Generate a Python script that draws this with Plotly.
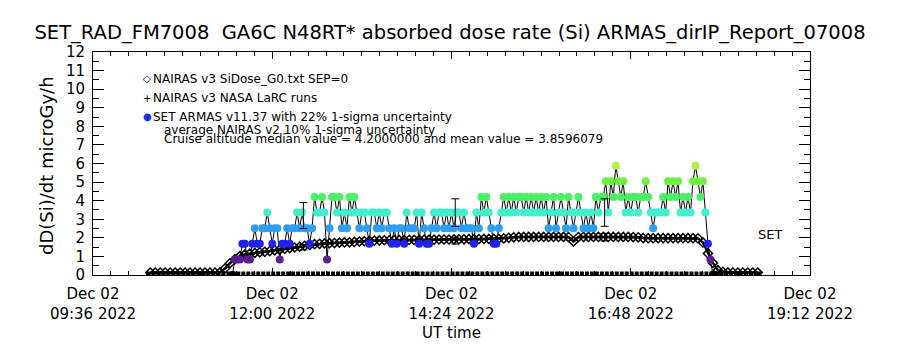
import pandas as pd
import plotly.graph_objects as go

# ---------------- data ----------------
# NAIRAS v3 SiDose_G0 (diamonds), sampled every 4 min from 10:22 UT
nairas_start = "2022-12-02 10:22"
nairas_step = "4min"
nairas_g0 = [
    0.13, 0.13, 0.13, 0.13, 0.13, 0.13, 0.13, 0.13, 0.13, 0.13,
    0.13, 0.13, 0.13, 0.13, 0.14, 0.35, 0.63, 0.85, 1.02, 1.10,
    1.15, 1.19, 1.22, 1.25, 1.29, 1.33, 1.37, 1.41, 1.45, 1.48,
    1.52, 1.57, 1.62, 1.66, 1.68, 1.70, 1.71, 1.72, 1.74, 1.75,
    1.76, 1.78, 1.80, 1.82, 1.84, 1.85, 1.86, 1.87, 1.87, 1.88,
    1.88, 1.88, 1.89, 1.89, 1.89, 1.90, 1.90, 1.90, 1.91, 1.91,
    1.91, 1.92, 1.92, 1.92, 1.93, 1.93, 1.93, 1.94, 1.94, 1.95,
    1.95, 1.97, 2.00, 2.03, 2.05, 2.05, 2.05, 2.05, 2.05, 2.05,
    2.05, 2.05, 2.05, 2.05, 2.04, 1.80, 2.04, 2.05, 2.05, 2.05,
    2.05, 2.05, 2.05, 2.05, 2.05, 2.05, 2.05, 2.04, 2.03, 1.99,
    1.98, 1.98, 1.98, 1.98, 1.98, 1.98, 1.98, 1.98, 1.98, 1.98,
    1.97, 1.75, 1.16, 0.65, 0.26, 0.17, 0.14, 0.13, 0.13, 0.13,
    0.13, 0.13, 0.13,
]

# NAIRAS v3 NASA LaRC runs (at zero for this flight), every 4 min from 10:22 UT
larc_start = "2022-12-02 10:22"
larc_step = "4min"
larc_runs = [
    0, 0, 0, 0, 0, 0, 0, 0, 0, 0, 0, 0, 0, 0, 0, 0, 0, 0, 0, 0,
    0, 0, 0, 0, 0, 0, 0, 0, 0, 0, 0, 0, 0, 0, 0, 0, 0, 0, 0, 0,
    0, 0, 0, 0, 0, 0, 0, 0, 0, 0, 0, 0, 0, 0, 0, 0, 0, 0, 0, 0,
    0, 0, 0, 0, 0, 0, 0, 0, 0, 0, 0, 0, 0, 0, 0, 0, 0, 0, 0, 0,
    0, 0, 0, 0, 0, 0, 0, 0, 0, 0, 0, 0, 0, 0, 0, 0, 0, 0, 0, 0,
    0, 0, 0, 0, 0, 0, 0, 0, 0, 0, 0, 0, 0, 0, 0, 0, 0, 0, 0, 0,
    0, 0, 0,
]

# SET ARMAS v11.37 dose rate, every 2 min from 11:28 UT
armas_start = "2022-12-02 11:28"
armas_step = "2min"
armas = [
    0.00,
    0.84, 0.84, 0.84, 1.68, 1.68, 0.84, 0.84, 1.68, 2.52, 1.68,
    1.68, 2.52, 2.52, 3.36, 2.52, 1.68, 2.52, 2.52, 0.84, 1.68,
    1.68, 2.52, 1.68, 2.52, 2.52, 3.36, 2.52, 3.36, 2.52, 2.52,
    1.68, 2.52, 4.20, 3.36, 3.36, 4.20, 3.36, 0.84, 2.52, 4.20,
    4.20, 3.36, 4.20, 2.52, 3.36, 2.52, 4.20, 3.36, 4.20, 3.36,
    2.52, 3.36, 3.36, 2.52, 1.68, 3.36, 3.36, 2.52, 3.36, 2.52,
    3.36, 3.36, 2.52, 1.68, 2.52, 1.68, 2.52, 2.52, 1.68, 3.36,
    2.52, 2.52, 2.52, 3.36, 1.68, 3.36, 2.52, 1.68, 1.68, 2.52,
    3.36, 2.52, 3.36, 3.36, 2.52, 3.36, 2.52, 3.36, 2.52, 3.36,
    3.36, 2.52, 3.36, 2.52, 2.52, 2.52, 1.68, 3.36, 2.52, 4.20,
    3.36, 4.20, 3.36, 2.52, 1.68, 1.68, 2.52, 3.36, 4.20, 3.36,
    4.20, 3.36, 4.20, 3.36, 4.20, 4.20, 3.36, 4.20, 3.36, 4.20,
    3.36, 4.20, 3.36, 4.20, 3.36, 4.20, 2.52, 3.36, 4.20, 2.52,
    3.36, 4.20, 3.36, 2.52, 4.20, 3.36, 2.52, 3.36, 4.20, 3.36,
    2.52, 3.36, 2.52, 3.36, 2.52, 4.20, 3.36, 4.20, 4.20, 5.04,
    3.36, 5.04, 4.20, 5.88, 5.04, 4.20, 5.04, 3.36, 4.20, 3.36,
    4.20, 4.20, 3.36, 4.20, 4.20, 5.04, 4.20, 3.36, 2.52, 3.36,
    3.36, 3.36, 4.20, 3.36, 5.04, 4.20, 5.04, 4.20, 5.04, 3.36,
    4.20, 3.36, 4.20, 3.36, 5.04, 5.88, 5.04, 4.20, 5.04, 3.36,
    1.68, 0.84, 0.00, 0.00,
]

# Uncertainty bars
err_times = ["2022-12-02 12:25", "2022-12-02 14:27", "2022-12-02 16:27"]
armas_err_center = [3.20, 3.36, 3.36]
armas_err_pct = 22
nairas_err_center = [1.50, 1.85, 2.04]
nairas_err_pct = 10

# axis ticks
x_tickvals = ["2022-12-02 09:36", "2022-12-02 12:00", "2022-12-02 14:24",
              "2022-12-02 16:48", "2022-12-02 19:12"]
x_ticktext = ["Dec 02<br>09:36 2022", "Dec 02<br>12:00 2022", "Dec 02<br>14:24 2022",
              "Dec 02<br>16:48 2022", "Dec 02<br>19:12 2022"]
x_range = ["2022-12-02 09:36", "2022-12-02 19:12"]
y_range = [0, 12]

title_text = "SET_RAD_FM7008  GA6C N48RT* absorbed dose rate (Si) ARMAS_dirIP_Report_07008"
legend_lines = [
    "NAIRAS v3 SiDose_G0.txt SEP=0",
    "NAIRAS v3 NASA LaRC runs",
    "SET ARMAS v11.37 with 22% 1-sigma uncertainty",
]
note_lines = [
    "average NAIRAS v2 10% 1-sigma uncertainty",
    "Cruise altitude median value = 4.2000000 and mean value = 3.8596079",
]

# ---------------- figure ----------------
W, H = 900, 350
L, R, T, B = 93, 810, 52, 279
FONT = "DejaVu Sans"


def px(x):
    return (x - L) / (R - L)


def py(y):
    return (B - y) / (B - T)


t_nairas = pd.date_range(nairas_start, periods=len(nairas_g0), freq=nairas_step)
t_larc = pd.date_range(larc_start, periods=len(larc_runs), freq=larc_step)
t_armas = pd.date_range(armas_start, periods=len(armas), freq=armas_step)

level_colors = [
    [0.0, "#000000"],
    [1 / 7, "#5A1E90"],
    [2 / 7, "#2222EA"],
    [3 / 7, "#2E9EF2"],
    [4 / 7, "#40EFCC"],
    [5 / 7, "#48F064"],
    [6 / 7, "#6CF040"],
    [1.0, "#B0F040"],
]

fig = go.Figure()

fig.add_trace(go.Scatter(
    x=t_larc, y=larc_runs, mode="markers",
    marker=dict(symbol="square", size=8, color="black",
                line=dict(width=1, color="white")),
    showlegend=False, hoverinfo="skip"))

fig.add_trace(go.Scatter(
    x=t_nairas, y=nairas_g0, mode="lines+markers",
    line=dict(color="black", width=2.5),
    marker=dict(symbol="diamond-open", size=7, color="black", line=dict(width=1.5)),
    showlegend=False))

fig.add_trace(go.Scatter(
    x=t_armas, y=armas, mode="lines+markers",
    line=dict(color="black", width=1),
    marker=dict(symbol="circle", size=8, color=armas, colorscale=level_colors,
                cmin=0, cmax=max(armas), line=dict(width=0)),
    showlegend=False))

fig.add_trace(go.Scatter(
    x=err_times, y=armas_err_center, mode="markers",
    marker=dict(size=1, color="rgba(0,0,0,0)"),
    error_y=dict(type="percent", value=armas_err_pct, color="black",
                 thickness=1, width=4),
    showlegend=False))

fig.add_trace(go.Scatter(
    x=err_times, y=nairas_err_center, mode="markers",
    marker=dict(size=1, color="rgba(0,0,0,0)"),
    error_y=dict(type="percent", value=nairas_err_pct, color="black",
                 thickness=1, width=4),
    showlegend=False))

annotations = []
sym = ["<b>◇</b>", "+", "<span style='color:#1E2EE8'>●</span>"]
leg_y = [79, 99, 118]
for s, txt, yy in zip(sym, legend_lines, leg_y):
    annotations.append(dict(x=px(141), y=py(yy), xref="paper", yref="paper",
                            text=s, showarrow=False, xanchor="left", yanchor="middle",
                            font=dict(family=FONT, size=10, color="black")))
    annotations.append(dict(x=px(151), y=py(yy), xref="paper", yref="paper",
                            text=txt, showarrow=False, xanchor="left", yanchor="middle",
                            font=dict(family=FONT, size=12, color="black")))
for txt, yy in zip(note_lines, [131, 141]):
    annotations.append(dict(x=px(162), y=py(yy), xref="paper", yref="paper",
                            text=txt, showarrow=False, xanchor="left", yanchor="middle",
                            font=dict(family=FONT, size=12, color="black")))
annotations.append(dict(x=px(770), y=py(238), xref="paper", yref="paper",
                        text="SET", showarrow=False, xanchor="center", yanchor="middle",
                        font=dict(family=FONT, size=13, color="black")))
annotations.append(dict(x=px(47), y=py(168), xref="paper", yref="paper",
                        text="dD(Si)/dt microGy/h", textangle=-90, showarrow=False,
                        xanchor="center", yanchor="middle",
                        font=dict(family=FONT, size=18, color="black")))

fig.update_layout(
    width=W, height=H,
    margin=dict(l=L, r=W - R, t=T, b=H - B, pad=0),
    paper_bgcolor="white", plot_bgcolor="white",
    font=dict(family=FONT, color="black"),
    title=dict(text=title_text, x=0.5, xanchor="center", y=1 - 32 / H,
               yanchor="middle", font=dict(family=FONT, size=19.5, color="black")),
    showlegend=False,
    annotations=annotations,
    xaxis=dict(
        type="date", range=x_range, tickmode="array", tickvals=x_tickvals,
        ticktext=x_ticktext, ticks="inside", ticklen=7, tickwidth=1, tickcolor="black",
        showline=True, linecolor="black", linewidth=1, mirror="ticks",
        showgrid=False, zeroline=False,
        tickfont=dict(family=FONT, size=15, color="black"),
        ticklabelstandoff=5,
        minor=dict(ticks="inside", ticklen=4, tickcolor="black",
                   dtick=864000, tick0="2022-12-02 09:36", showgrid=False),
        title=dict(text="UT time", font=dict(family=FONT, size=15, color="black"),
                   standoff=5),
    ),
    yaxis=dict(
        range=y_range, tickmode="linear", tick0=0, dtick=1,
        ticks="inside", ticklen=11, tickwidth=1, tickcolor="black",
        showline=True, linecolor="black", linewidth=1, mirror="ticks",
        showgrid=False, zeroline=False,
        tickfont=dict(family=FONT, size=15, color="black"),
        ticklabelstandoff=4,
        minor=dict(ticks="inside", ticklen=6, tickcolor="black", dtick=0.5,
                   showgrid=False),
    ),
)

fig.write_html("out.html")
